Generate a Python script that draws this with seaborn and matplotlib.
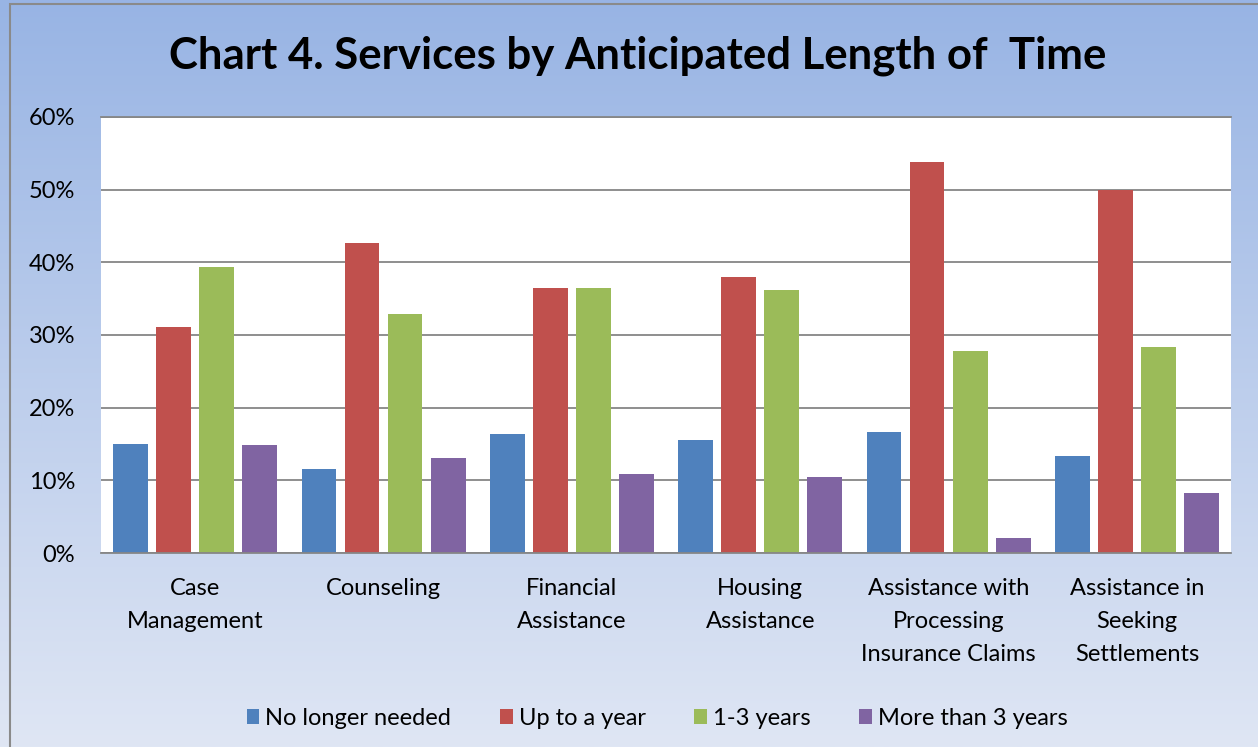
import numpy as np
import pandas as pd
import seaborn as sns
import matplotlib.pyplot as plt
from matplotlib.patches import Rectangle
from matplotlib.ticker import PercentFormatter

# categories and series (percent of respondents)
services = ["Case\nManagement", "Counseling", "Financial\nAssistance",
            "Housing\nAssistance", "Assistance with\nProcessing\nInsurance Claims",
            "Assistance in\nSeeking\nSettlements"]
periods = ["No longer needed", "Up to a year", "1-3 years", "More than 3 years"]
no_longer = [15.0, 11.5, 16.4, 15.6, 16.7, 13.3]
up_to_year = [31.1, 42.7, 36.5, 38.0, 53.8, 50.0]
one_three = [39.4, 32.9, 36.5, 36.2, 27.8, 28.4]
more_three = [14.9, 13.1, 10.9, 10.4, 2.0, 8.3]
colors = ["#4F81BD", "#C0504D", "#9BBB59", "#8064A2"]

df = pd.DataFrame({
    "service": services * 4,
    "period": np.repeat(periods, len(services)),
    "pct": no_longer + up_to_year + one_three + more_three,
})

sns.set_theme(style="white")
plt.rcParams["font.family"] = ["Lato", "DejaVu Sans"]
plt.rcParams["text.color"] = "black"

fig = plt.figure(figsize=(12.58, 7.47), dpi=100)

# gradient background + frame
bg = fig.add_axes([0, 0, 1, 1], zorder=-10)
top = np.array([152, 180, 228]) / 255
bot = np.array([223, 230, 244]) / 255
t = np.linspace(0, 1, 256)[:, None]
grad = (top[None, :] * (1 - t) + bot[None, :] * t)[:, None, :]
bg.imshow(grad, aspect="auto", extent=[0, 1, 0, 1], origin="upper")
bg.add_patch(Rectangle((10 / 1258, -0.01), 1.0, 1 - 4 / 747 + 0.01, fill=False,
                       edgecolor="#8a8a8a", linewidth=1.5, transform=bg.transAxes))
bg.set_xlim(0, 1)
bg.set_ylim(0, 1)
bg.axis("off")

ax = fig.add_axes([0.0803, 0.2597, 0.8983, 0.5837])
ax.set_facecolor("white")
sns.barplot(data=df, x="service", y="pct", hue="period", hue_order=periods,
            palette=colors, width=0.914, gap=0.19, ax=ax, saturation=1,
            linewidth=0, edgecolor="none", legend=True)

ax.set_ylim(0, 60)
ax.set_yticks(range(0, 61, 10))
ax.yaxis.set_major_formatter(PercentFormatter(decimals=0))
ax.grid(axis="y", color="#868686", linewidth=1.3)
ax.set_axisbelow(True)
for side in ["left", "right"]:
    ax.spines[side].set_visible(False)
for side in ["top", "bottom"]:
    ax.spines[side].set_color("#868686")
    ax.spines[side].set_linewidth(1.3)
ax.set_xlabel("")
ax.set_ylabel("")
ax.tick_params(axis="both", length=0, labelsize=17, colors="black")
ax.tick_params(axis="y", pad=18.5)
ax.tick_params(axis="x", pad=18)
for lbl in ax.get_xticklabels():
    lbl.set_linespacing(1.72)

ax.legend(loc="upper center", bbox_to_anchor=(0.492, -0.307), ncol=4,
          frameon=False, fontsize=17, handlelength=0.55, handleheight=0.6,
          handletextpad=0.25, columnspacing=2.05)

fig.text(0.5068, 0.926, "Chart 4. Services by Anticipated Length of  Time",
         ha="center", va="center", fontsize=31.5, fontweight="bold",
         color="black")

fig.savefig("out.png", dpi=100)
